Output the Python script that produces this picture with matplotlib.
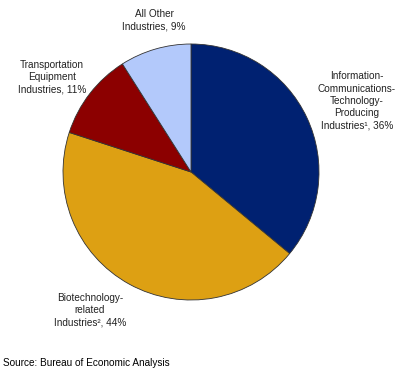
import matplotlib
matplotlib.use('Agg')
import matplotlib.pyplot as plt

plt.rcParams['font.family'] = ['Liberation Sans', 'DejaVu Sans']

# shares of industry, clockwise from 12 o'clock
categories = ['Information-Communications-Technology-Producing Industries',
              'Biotechnology-related Industries',
              'Transportation Equipment Industries',
              'All Other Industries']
shares = [36, 44, 11, 9]
colors = ['#002171', '#DDA013', '#8C0000', '#B3C9FB']

W, H = 398, 371
fig = plt.figure(figsize=(W / 100, H / 100), dpi=100)

# pie centre ~ (191, 172) px from top-left, radius ~128 px
cx, cy, r = 191, 172, 128
ax = fig.add_axes([(cx - r) / W, (H - cy - r) / H, 2 * r / W, 2 * r / H])
ax.pie(shares, colors=colors, startangle=90, counterclock=False,
       radius=1, wedgeprops=dict(edgecolor='#333333', linewidth=0.6))
ax.set_xlim(-1, 1)
ax.set_ylim(-1, 1)
ax.set_aspect('equal')
ax.axis('off')

txt = dict(fontsize=7.2, color='#222222', ha='center', va='center', linespacing=1.3)


def px(x, y):
    return x / W, 1 - y / H


fig.text(*px(154, 20), 'All Other\nIndustries, 9%', **txt)
fig.text(*px(52, 77), 'Transportation\nEquipment\nIndustries, 11%', **txt)
fig.text(*px(357, 101),
         'Information-\nCommunications-\nTechnology-\nProducing\n'
         'Industries\u00b9, 36%', **txt)
fig.text(*px(90, 310), 'Biotechnology-\nrelated\nIndustries\u00b2, 44%', **txt)
fig.text(*px(3, 363), 'Source: Bureau of Economic Analysis',
         fontsize=7.2, color='#000000', ha='left', va='center')

fig.savefig('out.png', dpi=100, facecolor='white')
